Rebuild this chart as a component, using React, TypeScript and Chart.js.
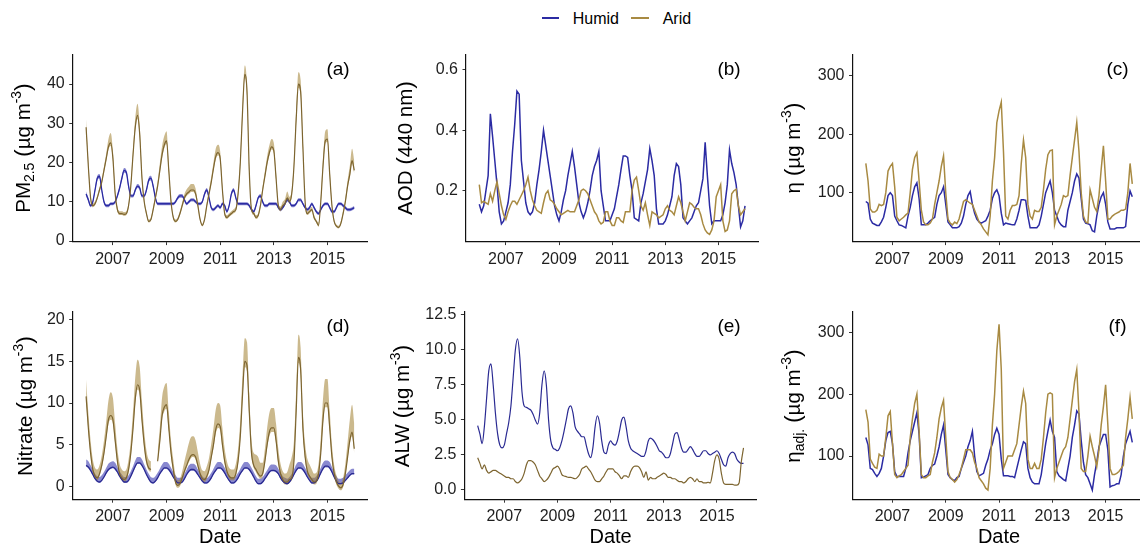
import React, { useEffect, useRef } from "react";
import { Chart, registerables } from "chart.js";

Chart.register(...registerables);

const FONT = '"Liberation Sans", Arial, Helvetica, sans-serif';
const HUMID = "#2b2ba3";
const ARID = "#a88a42";
const ARID_DARK = "#7d6530";
const HUMID_DARK = "#2a2a92";
const ARID_BAND = "rgba(160,128,48,0.55)";
const HUMID_BAND = "rgba(40,40,170,0.55)";
const TICK_COLOR = "#1e1e1e";

// monthly dates Jan 2006 .. Jan 2016 (decimal years)
const months: number[] = Array.from({ length: 121 }, (_, i) => 2006 + i / 12);
const xTicks = [2007, 2009, 2011, 2013, 2015];

// (a) PM2.5
const pmHumid = [
  12, 10.5, 9, 10, 13, 16, 16.5, 13, 10, 9, 9, 9.5,
  9.5, 10, 11.5, 13.5, 16, 18, 17.5, 14, 11.5, 11.5, 13, 14,
  13.5, 11.5, 11.5, 13, 15.5, 16, 14, 11, 9.5, 9.5, 9.5, 9.5,
  9.5, 9.5, 9.5, 9.5, 10, 11, 11.5, 11.5, 10.5, 9.5, 10, 10.5,
  10.5, 10, 9.5, 9.5, 10, 12, 13, 11, 8.5, 8, 8.5, 9,
  8.5, 9.5, 9, 7.5, 9, 12, 13, 11, 9.5, 9.5, 9.5, 9.5,
  9.5, 9, 8, 7.5, 9, 11, 11.5, 10, 9, 9, 9.5, 9.5,
  9.5, 9.5, 8.5, 8, 8.5, 9.5, 10.5, 10, 9, 9, 9.5, 10.5,
  10.5, 9.5, 8.5, 8, 8.5, 9.5, 8.5, 7.5, 7, 8, 9, 9.5,
  9.5, 8.5, 7.5, 7.5, 8.5, 9.5, 9.5, 9, 8.5, 8, 8, 8.2,
  8.5,
];
const pmHumidCi = [
  0.6, 0.5, 0.4, 0.4, 0.5, 0.6, 0.6, 0.5, 0.4, 0.4, 0.4, 0.4,
  0.4, 0.4, 0.5, 0.5, 0.6, 0.6, 0.6, 0.5, 0.4, 0.4, 0.5, 0.5,
  0.5, 0.4, 0.4, 0.5, 0.6, 0.6, 0.5, 0.4, 0.4, 0.4, 0.4, 0.4,
  0.4, 0.4, 0.4, 0.4, 0.4, 0.5, 0.5, 0.5, 0.4, 0.4, 0.4, 0.4,
  0.4, 0.4, 0.4, 0.4, 0.4, 0.5, 0.5, 0.4, 0.4, 0.4, 0.4, 0.4,
  0.4, 0.4, 0.4, 0.4, 0.4, 0.5, 0.5, 0.4, 0.4, 0.4, 0.4, 0.4,
  0.4, 0.4, 0.4, 0.4, 0.4, 0.4, 0.5, 0.4, 0.4, 0.4, 0.4, 0.4,
  0.4, 0.4, 0.4, 0.4, 0.4, 0.4, 0.5, 0.4, 0.4, 0.4, 0.4, 0.4,
  0.4, 0.4, 0.4, 0.4, 0.4, 0.4, 0.4, 0.4, 0.4, 0.4, 0.4, 0.4,
  0.4, 0.4, 0.4, 0.4, 0.4, 0.4, 0.4, 0.4, 0.4, 0.4, 0.4, 0.4,
  0.4,
];
const pmArid = [
  29, 19, 11, 9, 9.5, 11, 13, 15, 18, 21, 24, 25,
  21, 12, 8, 7, 7, 6.8, 7, 9, 14, 22, 29, 32,
  27, 16, 10, 7, 5, 5.5, 8, 11, 14, 18, 22, 24.5,
  25.5, 18, 10, 6, 5, 5.5, 7, 9, 11, 12, 12.5, 13,
  13, 12, 9, 5.5, 4, 5.5, 9, 12, 15, 18.5, 21.5, 22.5,
  21, 13, 7, 6, 6.5, 7, 7.5, 8, 12, 20, 33, 42.5,
  38, 18, 8, 7, 6, 6.5, 9, 13, 16.5, 20, 22.5, 24,
  23, 16, 9, 8, 9, 9.5, 11, 10, 12, 19, 31, 40,
  38, 24, 10, 7, 7.5, 8, 6, 5, 4, 10, 19, 25.5,
  26, 17, 9, 5, 3.8, 3.5, 4.5, 7, 10, 14, 17, 20.5,
  18,
];
const pmAridUp = [
  2.0, 1.5, 0.8, 0.6, 0.6, 0.6, 0.7, 0.8, 1.0, 1.3, 2.0, 2.5,
  2.0, 1.0, 0.7, 0.6, 0.6, 0.6, 0.6, 0.7, 1.0, 1.6, 2.5, 3.0,
  2.5, 1.2, 0.8, 0.6, 0.5, 0.5, 0.6, 0.8, 1.2, 1.8, 2.2, 2.3,
  2.5, 1.5, 0.8, 0.5, 0.5, 0.5, 0.7, 0.9, 1.0, 1.2, 1.4, 1.5,
  1.5, 1.3, 0.8, 0.5, 0.4, 0.5, 0.8, 1.0, 1.3, 1.6, 2.0, 2.0,
  1.8, 1.0, 0.6, 0.6, 0.6, 0.6, 0.6, 0.7, 1.0, 1.6, 2.0, 2.2,
  2.0, 1.3, 0.7, 0.6, 0.6, 0.6, 0.7, 1.0, 1.3, 1.6, 1.9, 2.0,
  2.0, 1.4, 0.8, 0.8, 1.0, 1.2, 1.6, 1.3, 1.0, 1.5, 2.5, 3.0,
  3.0, 2.0, 0.8, 0.6, 0.6, 0.7, 0.6, 0.4, 0.7, 1.2, 2.0, 2.5,
  2.5, 1.6, 0.8, 0.4, 0.4, 0.4, 0.6, 0.8, 1.0, 1.5, 2.2, 3.0,
  2.5,
];
const pmAridDn = [
  0.8, 0.6, 0.4, 0.4, 0.4, 0.4, 0.4, 0.5, 0.5, 0.6, 0.7, 0.8,
  0.7, 0.5, 0.4, 0.4, 0.4, 0.4, 0.4, 0.4, 0.5, 0.6, 0.8, 0.9,
  0.8, 0.6, 0.4, 0.4, 0.3, 0.3, 0.4, 0.5, 0.6, 0.7, 0.8, 0.8,
  0.8, 0.6, 0.4, 0.3, 0.3, 0.3, 0.4, 0.4, 0.5, 0.5, 0.5, 0.5,
  0.5, 0.5, 0.4, 0.3, 0.3, 0.3, 0.4, 0.4, 0.5, 0.6, 0.7, 0.7,
  0.7, 0.5, 0.4, 0.4, 0.4, 0.4, 0.4, 0.4, 0.5, 0.7, 0.9, 1.0,
  1.0, 0.7, 0.4, 0.4, 0.4, 0.4, 0.4, 0.5, 0.6, 0.7, 0.7, 0.7,
  0.7, 0.6, 0.4, 0.4, 0.4, 0.4, 0.5, 0.5, 0.5, 0.6, 0.8, 1.0,
  1.0, 0.8, 0.4, 0.4, 0.4, 0.4, 0.4, 0.3, 0.4, 0.5, 0.7, 0.8,
  0.8, 0.6, 0.4, 0.3, 0.3, 0.3, 0.3, 0.4, 0.5, 0.6, 0.7, 0.8,
  0.8,
];

// (b) AOD (440 nm)
const aodHumid = [
  0.155, 0.13, 0.15, 0.2, 0.25, 0.455, 0.38, 0.3, 0.22, 0.13, 0.09, 0.1,
  0.13, 0.16, 0.22, 0.33, 0.42, 0.53, 0.52, 0.3, 0.23, 0.16, 0.13, 0.12,
  0.13, 0.16, 0.22, 0.27, 0.33, 0.4, 0.35, 0.3, 0.25, 0.2, 0.15, 0.12,
  0.1, 0.13, 0.17, 0.2, 0.25, 0.29, 0.33, 0.28, 0.22, 0.16, 0.13, 0.11,
  0.13, 0.16, 0.2, 0.25, 0.28, 0.3, 0.33, 0.2, 0.15, 0.1, 0.1, 0.1,
  0.12, 0.14, 0.18, 0.22, 0.27, 0.315, 0.315, 0.31, 0.25, 0.2, 0.11, 0.105,
  0.1, 0.16, 0.19, 0.23, 0.27, 0.34, 0.3, 0.25, 0.14, 0.09, 0.09, 0.09,
  0.1, 0.12, 0.15, 0.18, 0.25, 0.29, 0.28, 0.22, 0.11, 0.1, 0.09, 0.1,
  0.11, 0.13, 0.15, 0.16, 0.2, 0.24, 0.36, 0.25, 0.15, 0.09, 0.1, 0.1,
  0.1, 0.1, 0.12, 0.16, 0.22, 0.335, 0.29, 0.26, 0.22, 0.15, 0.08, 0.1,
  0.15,
];
const aodArid = [
  0.22, 0.16, 0.165, 0.16, 0.155, 0.19, 0.165, 0.2, 0.23, 0.19, 0.15, 0.12,
  0.105, 0.13, 0.15, 0.165, 0.165, 0.155, 0.17, 0.185, 0.2, 0.22, 0.245, 0.2,
  0.17, 0.15, 0.135, 0.13, 0.125, 0.16, 0.19, 0.2, 0.17, 0.165, 0.155, 0.14,
  0.13, 0.12, 0.125, 0.13, 0.135, 0.13, 0.13, 0.13, 0.15, 0.17, 0.2, 0.205,
  0.2, 0.19, 0.17, 0.15, 0.13, 0.12, 0.1, 0.09, 0.095, 0.13, 0.13, 0.1,
  0.085, 0.085, 0.11, 0.11, 0.1, 0.095, 0.13, 0.13, 0.13, 0.2, 0.235, 0.245,
  0.2, 0.15, 0.135, 0.16, 0.12, 0.085, 0.13, 0.125, 0.12, 0.11, 0.115, 0.12,
  0.14, 0.15, 0.135, 0.13, 0.12, 0.15, 0.18, 0.16, 0.13, 0.1, 0.13, 0.16,
  0.155, 0.145, 0.14, 0.14, 0.12, 0.09, 0.07, 0.06, 0.055, 0.07, 0.1, 0.18,
  0.2, 0.22, 0.1, 0.065, 0.07, 0.1, 0.19, 0.2, 0.205, 0.15, 0.12, 0.13,
  0.14,
];

// (c) eta
const etaHumid = [
  85, 82, 55, 48, 46, 44, 44, 50, 58, 75, 95, 100,
  95, 60, 52, 45, 44, 42, 40, 60, 75, 95, 110, 117,
  90, 45, 45, 45, 48, 52, 55, 58, 80, 95, 100, 110,
  80, 50, 45, 40, 40, 40, 42, 48, 60, 80, 95, 102,
  80, 65, 55, 50, 48, 50, 52, 60, 70, 90, 100, 105,
  95, 65, 45, 48, 47, 46, 45, 45, 55, 70, 88, 88,
  87, 60, 40, 40, 40, 40, 45, 60, 80, 100, 110, 120,
  100, 70, 60, 50, 45, 42, 42, 70, 85, 100, 120, 132,
  125, 90, 55, 48, 47, 45, 35, 33, 60, 80, 93, 100,
  80, 50, 38, 38, 38, 40, 40, 40, 40, 42, 80, 103,
  93,
];
const etaArid = [
  150, 120, 72, 67, 67, 70, 80, 78, 80, 100, 137, 145,
  150, 110, 58, 52, 55, 58, 62, 65, 100, 140, 160, 168,
  120, 70, 50, 45, 45, 48, 55, 80, 100, 120, 145, 163,
  100, 55, 48, 45, 50, 47, 55, 70, 85, 88, 85, 82,
  80, 70, 60, 50, 45, 38, 33, 28, 60, 120, 160, 220,
  240, 255, 170, 60, 55, 70, 78, 78, 80, 95, 150, 190,
  160, 80, 60, 55, 70, 68, 68, 75, 105, 140, 165, 172,
  173, 45, 60, 70, 80, 95, 93, 95, 130, 160, 190, 220,
  170, 100, 60, 50, 48, 105, 90, 75, 68, 95, 140, 180,
  120, 55, 55, 60, 63, 65, 67, 70, 70, 72, 100, 150,
  115,
];

// (d) Nitrate
const nitHumid = [
  2.5, 2.3, 1.9, 1.4, 0.9, 0.6, 0.5, 0.7, 1.1, 1.6, 2.0, 2.2,
  2.3, 2.1, 1.7, 1.2, 0.8, 0.5, 0.5, 0.7, 1.2, 1.8, 2.4, 2.8,
  2.8, 2.5, 2.0, 1.4, 0.9, 0.5, 0.4, 0.6, 1.0, 1.5, 1.9, 2.2,
  2.2, 2.0, 1.6, 1.1, 0.7, 0.4, 0.4, 0.5, 0.9, 1.4, 1.8, 2.0,
  2.0, 1.8, 1.4, 1.0, 0.6, 0.4, 0.4, 0.6, 1.0, 1.5, 1.9, 2.2,
  2.2, 2.0, 1.6, 1.1, 0.7, 0.4, 0.4, 0.6, 1.0, 1.5, 1.9, 2.2,
  2.2, 2.0, 1.6, 1.1, 0.6, 0.3, 0.3, 0.5, 0.9, 1.3, 1.7, 1.9,
  1.9, 1.8, 1.5, 1.0, 0.6, 0.4, 0.3, 0.5, 0.9, 1.4, 1.9, 2.2,
  2.2, 2.0, 1.6, 1.1, 0.7, 0.4, 0.4, 0.6, 1.0, 1.6, 2.1, 2.4,
  2.4, 2.2, 1.7, 1.1, 0.6, 0.3, 0.3, 0.4, 0.7, 1.0, 1.3, 1.5,
  1.5,
];
const nitHumidUp = [
  0.7, 0.7, 0.6, 0.6, 0.6, 0.6, 0.6, 0.6, 0.6, 0.6, 0.7, 0.7,
  0.7, 0.7, 0.6, 0.6, 0.6, 0.6, 0.6, 0.6, 0.6, 0.6, 0.7, 0.7,
  0.7, 0.7, 0.6, 0.6, 0.6, 0.6, 0.6, 0.6, 0.6, 0.6, 0.7, 0.7,
  0.7, 0.7, 0.6, 0.6, 0.6, 0.6, 0.6, 0.6, 0.6, 0.6, 0.7, 0.7,
  0.7, 0.7, 0.6, 0.6, 0.6, 0.6, 0.6, 0.6, 0.6, 0.6, 0.7, 0.7,
  0.7, 0.7, 0.6, 0.6, 0.6, 0.6, 0.6, 0.6, 0.6, 0.6, 0.7, 0.7,
  0.7, 0.7, 0.6, 0.6, 0.6, 0.6, 0.6, 0.6, 0.6, 0.6, 0.7, 0.7,
  0.7, 0.7, 0.6, 0.6, 0.6, 0.6, 0.6, 0.6, 0.6, 0.6, 0.7, 0.7,
  0.7, 0.7, 0.6, 0.6, 0.6, 0.6, 0.6, 0.6, 0.6, 0.6, 0.7, 0.7,
  0.7, 0.7, 0.6, 0.6, 0.6, 0.6, 0.6, 0.6, 0.6, 0.6, 0.6, 0.6,
  0.6,
];
const nitHumidDn = [
  0.15, 0.15, 0.1, 0.1, 0.1, 0.1, 0.1, 0.1, 0.1, 0.1, 0.15, 0.15,
  0.15, 0.15, 0.1, 0.1, 0.1, 0.1, 0.1, 0.1, 0.1, 0.1, 0.15, 0.15,
  0.15, 0.15, 0.1, 0.1, 0.1, 0.1, 0.1, 0.1, 0.1, 0.1, 0.15, 0.15,
  0.15, 0.15, 0.1, 0.1, 0.1, 0.1, 0.1, 0.1, 0.1, 0.1, 0.15, 0.15,
  0.15, 0.15, 0.1, 0.1, 0.1, 0.1, 0.1, 0.1, 0.1, 0.1, 0.15, 0.15,
  0.15, 0.15, 0.1, 0.1, 0.1, 0.1, 0.1, 0.1, 0.1, 0.1, 0.15, 0.15,
  0.15, 0.15, 0.1, 0.1, 0.1, 0.1, 0.1, 0.1, 0.1, 0.1, 0.15, 0.15,
  0.15, 0.15, 0.1, 0.1, 0.1, 0.1, 0.1, 0.1, 0.1, 0.1, 0.15, 0.15,
  0.15, 0.15, 0.1, 0.1, 0.1, 0.1, 0.1, 0.1, 0.1, 0.1, 0.15, 0.15,
  0.15, 0.15, 0.1, 0.1, 0.1, 0.1, 0.1, 0.1, 0.1, 0.1, 0.1, 0.1,
  0.1,
];
const nitArid = [
  10.8, 7, 4, 2, 1.2, 1, 1.5, 2.5, 4, 6, 8, 8.5,
  8, 5.5, 3, 1.5, 1, 0.8, 1, 2, 4, 7, 10.5, 12.2,
  11.5, 8, 5, 3, 2.2, 2, null, null, 3, 5.5, 8.5, 9.5,
  9.8, 7, 4, 2, 0.5, 0.1, 0.3, 1, 1.8, 2.5, 3.2, 3.7,
  3.8, 3.5, 2.5, 1.5, 0.9, 0.8, 1.2, 2, 3.5, 5, 6.8, 7.5,
  7.2, 5, 3, 1.8, 1.2, 1, 1, 1.5, 3, 6, 11, 15,
  14.5, 9, 4, 2.5, 2, 1.5, 1.2, 1.5, 3, 5, 6.5, 7,
  7, 5.5, 3, 1.5, 0.8, 0.5, 0.5, 0.8, 1, 3, 9, 15.5,
  14, 7, 3.5, 1.8, 1.2, 0.8, 0.5, 0.6, 1.5, 4, 8, 10,
  10, 7, 3.5, 1.5, 0.5, 0, -0.2, 0.2, 1.5, 3.5, 5.5, 6.5,
  4.5,
];
const nitAridUp = [
  2.0, 1.8, 1.5, 1.2, 1.0, 1.0, 1.0, 1.2, 1.5, 1.8, 2.3, 2.8,
  2.6, 2.0, 1.5, 1.2, 1.0, 1.0, 1.0, 1.2, 1.5, 2.0, 2.6, 3.0,
  2.8, 2.2, 1.6, 1.3, 1.0, 1.0, null, null, 1.2, 1.6, 2.2, 2.5,
  2.6, 2.0, 1.5, 1.2, 0.8, 0.6, 0.6, 0.8, 1.2, 1.6, 2.0, 2.2,
  2.2, 2.0, 1.6, 1.2, 1.0, 1.0, 1.2, 1.4, 1.6, 2.0, 2.4, 2.5,
  2.5, 2.0, 1.5, 1.2, 1.0, 1.0, 1.0, 1.2, 1.5, 2.0, 2.5, 2.8,
  2.8, 2.2, 1.6, 1.5, 1.8, 2.0, 1.6, 1.3, 1.5, 2.0, 2.3, 2.4,
  2.4, 2.0, 1.5, 1.2, 1.0, 1.0, 1.2, 1.8, 2.5, 2.5, 2.6, 2.7,
  2.6, 2.0, 1.6, 1.5, 1.4, 1.2, 1.0, 1.0, 1.2, 1.8, 2.5, 2.9,
  2.9, 2.2, 1.5, 1.0, 0.8, 0.6, 0.6, 0.8, 1.2, 1.8, 2.5, 3.3,
  3.0,
];
const nitAridDn = [
  0.5, 0.4, 0.3, 0.3, 0.3, 0.3, 0.3, 0.3, 0.3, 0.4, 0.5, 0.5,
  0.5, 0.4, 0.3, 0.3, 0.3, 0.3, 0.3, 0.3, 0.4, 0.5, 0.6, 0.6,
  0.6, 0.5, 0.4, 0.3, 0.3, 0.3, null, null, 0.3, 0.4, 0.5, 0.5,
  0.5, 0.4, 0.3, 0.3, 0.3, 0.3, 0.3, 0.3, 0.3, 0.3, 0.3, 0.3,
  0.3, 0.3, 0.3, 0.3, 0.3, 0.3, 0.3, 0.3, 0.3, 0.4, 0.5, 0.5,
  0.5, 0.4, 0.3, 0.3, 0.3, 0.3, 0.3, 0.3, 0.3, 0.4, 0.6, 0.7,
  0.7, 0.5, 0.3, 0.3, 0.3, 0.3, 0.3, 0.3, 0.3, 0.4, 0.5, 0.5,
  0.5, 0.4, 0.3, 0.3, 0.3, 0.3, 0.3, 0.3, 0.3, 0.3, 0.5, 0.7,
  0.7, 0.5, 0.3, 0.3, 0.3, 0.3, 0.3, 0.3, 0.3, 0.3, 0.5, 0.5,
  0.5, 0.4, 0.3, 0.3, 0.3, 0.3, 0.3, 0.3, 0.3, 0.3, 0.4, 0.5,
  0.5,
];

// (e) ALW
const alwHumid = [
  4.6, 4.0, 3.3, 4.5, 6.5, 8.5, 9.0, 7.5, 5.5, 4.0, 3.2, 3.0,
  3.2, 4.0, 4.8, 6.0, 8.0, 10.0, 10.8, 9.5, 7.0, 6.0, 5.9, 5.8,
  5.7, 5.4, 5.0, 4.7, 5.5, 7.5, 8.5, 7.5, 5.0, 3.5, 3.0, 2.9,
  2.8, 3.0, 3.5, 4.2, 5.0, 5.8, 6.0, 5.5, 4.5, 4.2, 4.0, 3.8,
  3.8, 3.2, 2.6, 2.3, 3.0, 4.5, 5.3, 4.8, 3.5, 2.7, 2.6, 3.2,
  3.5, 3.3, 3.2, 3.5, 4.2, 5.0, 5.2, 4.5, 3.5, 3.0, 2.8, 2.7,
  2.6, 2.5, 2.4, 2.4, 2.8, 3.5, 3.7, 3.6, 3.4, 3.1, 2.8, 2.7,
  2.5, 2.3, 2.3, 2.6, 3.3, 4.0, 4.1, 3.6, 3.0, 2.7, 2.7, 2.9,
  3.1, 2.9, 2.6, 2.4, 2.4, 2.6, 2.8, 2.8, 2.6, 2.5, 2.6, 2.7,
  2.8, 2.6, 2.2, 1.8, 1.7, 2.3, 2.6, 2.7, 2.6, 2.2, 2.0, 1.9,
  1.9,
];
const alwArid = [
  2.3, 1.9, 1.5, 1.8, 1.4, 1.2, 1.3, 1.4, 1.4, 1.3, 1.2, 1.1,
  1.0, 0.9, 0.9, 0.8, 0.8, 0.6, 0.5, 0.6, 0.8, 1.2, 1.8, 2.1,
  2.1, 2.0, 1.8, 1.4, 1.0, 0.8, 0.6, 0.7, 0.9, 1.2, 1.5, 1.6,
  1.7, 1.5, 1.1, 1.0, 0.95, 0.9, 0.9, 0.85, 0.8, 0.9, 1.1, 1.5,
  1.6, 1.7, 1.5, 1.3, 1.0, 0.7, 0.6, 0.6, 0.8, 1.0, 1.3, 1.5,
  1.5, 1.5, 1.3, 1.2, 1.0, 0.8, 1.0, 1.0, 0.9, 1.3, 1.6, 1.7,
  1.7, 1.6, 1.3, 0.9, 1.3, 0.7, 0.9, 0.8, 0.8, 0.9, 1.0, 1.1,
  1.2, 1.1, 0.9, 0.9, 0.8, 0.8, 0.7, 0.6, 0.6, 0.5, 0.6, 0.8,
  0.9, 0.8, 0.6, 0.8, 0.6, 0.6, 0.5, 0.5, 0.55, 0.5, 1.2, 2.1,
  2.5, 2.2, 1.2, 0.5, 0.4, 0.4, 0.4, 0.4, 0.35, 0.35, 0.5, 2.0,
  3.0,
];

// (f) eta adj.
const etaAdjHumid = [
  130, 118, 80, 78, 72, 67, 72, 80, 100, 125, 138, 140,
  120, 75, 67, 67, 67, 67, 80, 105, 125, 140, 155, 170,
  135, 65, 66, 68, 70, 80, 85, 87, 100, 115, 135, 150,
  110, 70, 65, 62, 60, 65, 67, 80, 90, 100, 115, 125,
  140, 100, 75, 68, 70, 72, 85, 95, 110, 120, 135, 145,
  135, 95, 68, 68, 68, 67, 67, 65, 80, 95, 110, 123,
  120, 80, 65, 58, 55, 55, 55, 70, 95, 120, 140, 158,
  140, 130, 75, 68, 65, 62, 60, 80, 100, 130, 150, 173,
  168, 125, 90, 70, 65, 55, 45, 70, 90, 115, 125, 135,
  135, 110, 50, 52, 53, 55, 55, 70, 100, 120, 130, 140,
  122,
];
const etaAdjArid = [
  175, 155, 95, 88, 82, 80, 103, 100, 100, 130, 165, 172,
  120, 70, 65, 68, 70, 75, 80, 85, 130, 160, 185, 200,
  140, 70, 65, 65, 68, 70, 90, 105, 130, 160, 178, 190,
  130, 75, 65, 62, 58, 62, 70, 80, 95, 110, 110, 110,
  105, 90, 80, 65, 60, 55, 48, 45, 80, 150, 200, 270,
  313, 240, 80, 90, 100, 100, 100, 110, 120, 150, 180, 205,
  185, 95, 80, 80, 88, 80, 80, 95, 130, 170, 200, 202,
  200, 65, 80, 90, 100, 110, 115, 130, 160, 190, 220, 240,
  170, 80, 75, 75, 100, 132, 115, 100, 83, 110, 150, 180,
  215, 150, 80, 70, 70, 72, 75, 80, 85, 130, 160, 195,
  160,
];

type Rect = { l: number; t: number; r: number; b: number };
type LineDef = { data: (number | null)[]; color: string; width: number };
type BandDef = { base: (number | null)[]; up: (number | null)[]; dn: (number | null)[]; color: string };
type PanelDef = {
  key: string;
  cx: number;
  cy: number;
  cw: number;
  ch: number;
  plot: Rect;
  yMin: number;
  yMax: number;
  yTicks: number[];
  yDigits: number;
  smooth: boolean;
  lines: LineDef[];
  bands: BandDef[];
};

const TOPROW = { t: 55, b: 241.6 };
const BOTROW = { t: 312, b: 499.2 };

const panels: PanelDef[] = [
  {
    key: "a", cx: 0, cy: 40, cw: 378, ch: 232,
    plot: { l: 72.7, t: TOPROW.t, r: 367.7, b: TOPROW.b },
    yMin: -0.15, yMax: 47.4, yTicks: [0, 10, 20, 30, 40], yDigits: 0, smooth: true,
    lines: [
      { data: pmArid, color: ARID_DARK, width: 1.2 },
      { data: pmHumid, color: HUMID, width: 1.3 },
    ],
    bands: [
      { base: pmArid, up: pmAridUp, dn: pmAridDn, color: ARID_BAND },
      { base: pmHumid, up: pmHumidCi, dn: pmHumidCi, color: HUMID_BAND },
    ],
  },
  {
    key: "b", cx: 384, cy: 40, cw: 380, ch: 232,
    plot: { l: 466, t: TOPROW.t, r: 758.3, b: TOPROW.b },
    yMin: 0.0313, yMax: 0.6497, yTicks: [0.2, 0.4, 0.6], yDigits: 1, smooth: false,
    lines: [
      { data: aodArid, color: ARID, width: 1.5 },
      { data: aodHumid, color: HUMID, width: 1.5 },
    ],
    bands: [],
  },
  {
    key: "c", cx: 770, cy: 40, cw: 385, ch: 232,
    plot: { l: 852.5, t: TOPROW.t, r: 1145.6, b: TOPROW.b },
    yMin: 16.4, yMax: 335.4, yTicks: [100, 200, 300], yDigits: 0, smooth: false,
    lines: [
      { data: etaArid, color: ARID, width: 1.5 },
      { data: etaHumid, color: HUMID, width: 1.5 },
    ],
    bands: [],
  },
  {
    key: "d", cx: 0, cy: 296, cw: 378, ch: 232,
    plot: { l: 72.7, t: BOTROW.t, r: 367.7, b: BOTROW.b },
    yMin: -1.57, yMax: 20.95, yTicks: [0, 5, 10, 15, 20], yDigits: 0, smooth: true,
    lines: [
      { data: nitArid, color: ARID_DARK, width: 1.2 },
      { data: nitHumid, color: HUMID_DARK, width: 1.3 },
    ],
    bands: [
      { base: nitArid, up: nitAridUp, dn: nitAridDn, color: ARID_BAND },
      { base: nitHumid, up: nitHumidUp, dn: nitHumidDn, color: HUMID_BAND },
    ],
  },
  {
    key: "e", cx: 384, cy: 296, cw: 380, ch: 232,
    plot: { l: 464.4, t: BOTROW.t, r: 756.8, b: BOTROW.b },
    yMin: -0.66, yMax: 12.71, yTicks: [0, 2.5, 5, 7.5, 10, 12.5], yDigits: 1, smooth: true,
    lines: [
      { data: alwArid, color: ARID_DARK, width: 1.2 },
      { data: alwHumid, color: HUMID_DARK, width: 1.2 },
    ],
    bands: [],
  },
  {
    key: "f", cx: 770, cy: 296, cw: 385, ch: 232,
    plot: { l: 852.5, t: BOTROW.t, r: 1145.6, b: BOTROW.b },
    yMin: 30.2, yMax: 332.9, yTicks: [100, 200, 300], yDigits: 0, smooth: false,
    lines: [
      { data: etaAdjArid, color: ARID, width: 1.5 },
      { data: etaAdjHumid, color: HUMID, width: 1.5 },
    ],
    bands: [],
  },
];

function toPoints(arr: (number | null)[]) {
  return months.map((x, i) => ({ x, y: arr[i] == null ? null : arr[i] }));
}

function offsetSeries(base: (number | null)[], off: (number | null)[], sign: number) {
  return base.map((v, i) => (v == null || off[i] == null ? null : (v as number) + sign * (off[i] as number)));
}

function ChartPanel({ def }: { def: PanelDef }) {
  const ref = useRef<HTMLCanvasElement | null>(null);
  useEffect(() => {
    const canvas = ref.current;
    if (!canvas) return;
    const interp: any = def.smooth ? { cubicInterpolationMode: "monotone" } : { tension: 0 };
    const datasets: any[] = [];
    def.lines.forEach((l) => {
      datasets.push({
        data: toPoints(l.data),
        borderColor: l.color,
        borderWidth: l.width,
        pointRadius: 0,
        fill: false,
        spanGaps: false,
        ...interp,
      });
    });
    def.bands.forEach((b) => {
      datasets.push({
        data: toPoints(offsetSeries(b.base, b.up, 1)),
        borderWidth: 0,
        borderColor: "rgba(0,0,0,0)",
        backgroundColor: b.color,
        pointRadius: 0,
        fill: "+1",
        spanGaps: false,
        ...interp,
      });
      datasets.push({
        data: toPoints(offsetSeries(b.base, b.dn, -1)),
        borderWidth: 0,
        borderColor: "rgba(0,0,0,0)",
        pointRadius: 0,
        fill: false,
        spanGaps: false,
        ...interp,
      });
    });
    const tickFont = { family: FONT, size: 16 };
    const chart = new Chart(canvas, {
      type: "line",
      data: { datasets },
      options: {
        animation: false,
        responsive: false,
        maintainAspectRatio: false,
        events: [],
        layout: {
          padding: {
            left: 0,
            top: def.plot.t - def.cy,
            right: def.cx + def.cw - def.plot.r,
            bottom: 0,
          },
        },
        plugins: { legend: { display: false }, tooltip: { enabled: false }, title: { display: false } },
        scales: {
          x: {
            type: "linear",
            min: 2005.5,
            max: 2016.5,
            afterBuildTicks: (s: any) => {
              s.ticks = xTicks.map((v) => ({ value: v }));
            },
            afterFit: (s: any) => {
              s.height = def.cy + def.ch - def.plot.b;
            },
            ticks: {
              autoSkip: false,
              maxRotation: 0,
              minRotation: 0,
              padding: 4.5,
              color: TICK_COLOR,
              font: tickFont,
              callback: (v: any) => String(v),
            },
            grid: { display: true, drawOnChartArea: false, drawTicks: true, tickLength: 3.5, tickColor: "#333", tickWidth: 1 },
            border: { display: true, color: "#111", width: 1.2 },
          },
          y: {
            type: "linear",
            min: def.yMin,
            max: def.yMax,
            afterBuildTicks: (s: any) => {
              s.ticks = def.yTicks.map((v) => ({ value: v }));
            },
            afterFit: (s: any) => {
              s.width = def.plot.l - def.cx;
            },
            ticks: {
              padding: 4.5,
              color: TICK_COLOR,
              font: tickFont,
              callback: (v: any) => Number(v).toFixed(def.yDigits),
            },
            grid: { display: true, drawOnChartArea: false, drawTicks: true, tickLength: 3.5, tickColor: "#333", tickWidth: 1 },
            border: { display: true, color: "#111", width: 1.2 },
          },
        },
      } as any,
    });
    return () => chart.destroy();
  }, [def]);
  return (
    <canvas
      ref={ref}
      width={def.cw}
      height={def.ch}
      style={{ position: "absolute", left: def.cx, top: def.cy, width: def.cw, height: def.ch }}
    />
  );
}

const subStyle: React.CSSProperties = { fontSize: "68%", verticalAlign: "-0.3em", lineHeight: 0 };
const supStyle: React.CSSProperties = { fontSize: "68%", verticalAlign: "0.65em", lineHeight: 0 };
const parenStyle: React.CSSProperties = { fontSize: "112%", lineHeight: 0 };

function VTitle({ x, y, children }: { x: number; y: number; children: React.ReactNode }) {
  return (
    <div
      style={{
        position: "absolute",
        left: x,
        top: y,
        transform: "translate(-50%, -50%) rotate(-90deg)",
        whiteSpace: "nowrap",
        fontSize: 20.5,
        lineHeight: 1,
        color: "#000",
      }}
    >
      {children}
    </div>
  );
}

function HText({ x, y, size, children }: { x: number; y: number; size: number; children: React.ReactNode }) {
  return (
    <div
      style={{
        position: "absolute",
        left: x,
        top: y,
        transform: "translate(-50%, -50%)",
        whiteSpace: "nowrap",
        fontSize: size,
        lineHeight: 1,
        color: "#000",
      }}
    >
      {children}
    </div>
  );
}

const unit = (
  <>
    {" "}
    <span style={parenStyle}>(</span>µg m<sup style={supStyle}>-3</sup>
    <span style={parenStyle}>)</span>
  </>
);

const tags = [
  { t: "(a)", x: 338, y: 67.5 },
  { t: "(b)", x: 729, y: 67.5 },
  { t: "(c)", x: 1117.5, y: 67.5 },
  { t: "(d)", x: 338, y: 325 },
  { t: "(e)", x: 729, y: 324.5 },
  { t: "(f)", x: 1117.5, y: 325 },
];

export default function App() {
  return (
    <div
      style={{
        position: "absolute",
        left: 0,
        top: 0,
        width: 1140,
        height: 544,
        overflow: "hidden",
        background: "#fff",
        fontFamily: FONT,
      }}
    >
      {panels.map((p) => (
        <ChartPanel key={p.key} def={p} />
      ))}

      {/* legend */}
      <div style={{ position: "absolute", left: 541.7, top: 17.3, width: 17.6, height: 2, background: HUMID }} />
      <div style={{ position: "absolute", left: 572.7, top: 10, fontSize: 16, lineHeight: "17px", color: "#000" }}>Humid</div>
      <div style={{ position: "absolute", left: 631, top: 17.3, width: 18.3, height: 2, background: ARID }} />
      <div style={{ position: "absolute", left: 662.7, top: 10, fontSize: 16, lineHeight: "17px", color: "#000" }}>Arid</div>

      {/* y-axis titles */}
      <VTitle x={23} y={148.3}>
        PM<sub style={subStyle}>2.5</sub>
        {unit}
      </VTitle>
      <VTitle x={405} y={148.3}>
        AOD <span style={parenStyle}>(</span>440 nm<span style={parenStyle}>)</span>
      </VTitle>
      <VTitle x={793} y={148.3}>
        η{unit}
      </VTitle>
      <VTitle x={25} y={405.6}>
        Nitrate{unit}
      </VTitle>
      <VTitle x={402} y={405.6}>
        ALW{unit}
      </VTitle>
      <VTitle x={793} y={405.6}>
        η<sub style={subStyle}>adj.</sub>
        {unit}
      </VTitle>

      {/* x-axis titles */}
      <HText x={220.2} y={536} size={20}>Date</HText>
      <HText x={610.6} y={536} size={20}>Date</HText>
      <HText x={999} y={536} size={20}>Date</HText>

      {/* panel tags */}
      {tags.map((t) => (
        <HText key={t.t} x={t.x} y={t.y} size={19}>
          {t.t}
        </HText>
      ))}
    </div>
  );
}
